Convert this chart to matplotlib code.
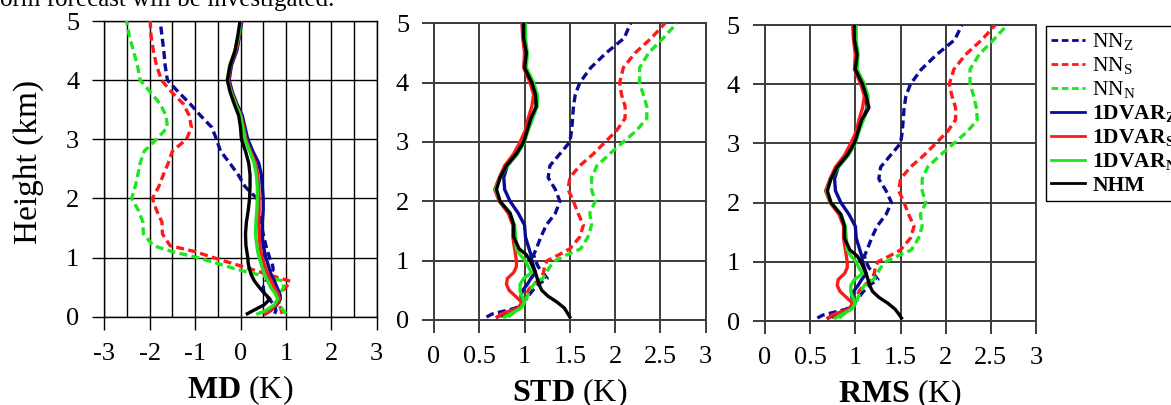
import matplotlib
matplotlib.use("Agg")
import matplotlib.pyplot as plt
from matplotlib.lines import Line2D

plt.rcParams['font.family'] = ['Liberation Serif', 'DejaVu Serif']
plt.rcParams['mathtext.fontset'] = 'custom'
plt.rcParams['mathtext.rm'] = 'Liberation Serif'
plt.rcParams['mathtext.bf'] = 'Liberation Serif:bold'
plt.rcParams['mathtext.it'] = 'Liberation Serif:italic'
plt.rcParams['axes.unicode_minus'] = False

# ---------------- data ----------------
height = [0.05, 0.1, 0.2, 0.3, 0.4, 0.5, 0.6, 0.7, 0.8, 0.9, 1.0, 1.1, 1.2, 1.4, 1.6,
          1.8, 2.0, 2.2, 2.4, 2.6, 2.8, 3.0, 3.2, 3.4, 3.6, 3.8, 4.0, 4.25, 4.5, 4.75, 5.0]

# MD (K)
md_nn_z = [0.75, 0.78, 0.75, 0.62, 0.52, 0.50, 0.56, 0.65, 0.72, 0.70, 0.64, 0.60, 0.56, 0.50, 0.44,
           0.40, 0.36, 0.10, -0.05, -0.24, -0.44, -0.53, -0.63, -0.88, -1.11, -1.37, -1.61, -1.66, -1.69, -1.73, -1.77]
md_nn_s = [0.92, 0.90, 0.86, 0.85, 0.88, 1.00, 1.10, 0.66, 0.25, -0.18, -0.60, -1.00, -1.55, -1.72, -1.73,
           -1.85, -1.94, -1.80, -1.70, -1.59, -1.50, -1.19, -1.08, -1.13, -1.26, -1.52, -1.74, -1.85, -1.92, -1.97, -1.99]
md_nn_n = [1.00, 0.95, 0.85, 0.85, 0.88, 0.95, 0.95, 0.45, -0.08, -0.50, -0.95, -1.50, -1.92, -2.14, -2.15,
           -2.25, -2.40, -2.32, -2.26, -2.21, -2.12, -1.85, -1.61, -1.64, -1.77, -1.99, -2.21, -2.27, -2.36, -2.45, -2.51]
md_var_z = [0.55, 0.66, 0.80, 0.88, 0.86, 0.80, 0.75, 0.68, 0.64, 0.60, 0.56, 0.53, 0.50, 0.47, 0.48,
            0.50, 0.50, 0.48, 0.46, 0.40, 0.27, 0.16, 0.10, 0.04, -0.08, -0.18, -0.25, -0.20, -0.08, -0.02, 0.03]
md_var_s = [0.55, 0.65, 0.78, 0.86, 0.82, 0.74, 0.68, 0.61, 0.56, 0.52, 0.48, 0.45, 0.43, 0.41, 0.40,
            0.41, 0.41, 0.40, 0.38, 0.33, 0.22, 0.12, 0.07, 0.01, -0.10, -0.20, -0.27, -0.22, -0.10, -0.03, 0.01]
md_var_n = [0.38, 0.55, 0.74, 0.82, 0.76, 0.66, 0.60, 0.54, 0.49, 0.45, 0.41, 0.38, 0.36, 0.33, 0.34,
            0.36, 0.37, 0.37, 0.35, 0.30, 0.20, 0.10, 0.05, 0.00, -0.11, -0.21, -0.29, -0.24, -0.12, -0.04, 0.00]
md_nhm = [0.15, 0.27, 0.52, 0.65, 0.52, 0.41, 0.31, 0.24, 0.20, 0.17, 0.16, 0.14, 0.12, 0.11, 0.13,
          0.17, 0.20, 0.21, 0.21, 0.18, 0.11, 0.02, 0.00, -0.04, -0.14, -0.23, -0.29, -0.23, -0.12, -0.06, -0.01]

# STD (K)
std_nn_z = [0.58, 0.64, 0.90, 0.98, 1.04, 1.09, 1.15, 1.25, 1.20, 1.15, 1.12, 1.10, 1.13, 1.18, 1.24,
            1.34, 1.39, 1.34, 1.26, 1.28, 1.39, 1.50, 1.52, 1.53, 1.54, 1.56, 1.61, 1.73, 1.90, 2.10, 2.17]
std_nn_s = [0.74, 0.78, 0.92, 0.99, 1.01, 1.04, 1.09, 1.19, 1.21, 1.22, 1.25, 1.38, 1.50, 1.61, 1.65,
            1.59, 1.54, 1.48, 1.50, 1.61, 1.76, 1.89, 2.02, 2.11, 2.11, 2.07, 2.05, 2.09, 2.22, 2.40, 2.55]
std_nn_n = [0.82, 0.86, 0.95, 1.01, 1.03, 1.06, 1.10, 1.20, 1.24, 1.28, 1.34, 1.47, 1.62, 1.70, 1.74,
            1.72, 1.78, 1.74, 1.74, 1.80, 1.94, 2.09, 2.24, 2.35, 2.35, 2.31, 2.27, 2.27, 2.37, 2.53, 2.68]
std_var_z = [0.70, 0.76, 0.92, 1.00, 0.96, 0.98, 1.03, 1.07, 1.12, 1.10, 1.08, 1.07, 1.05, 1.01, 1.00,
             0.93, 0.84, 0.78, 0.77, 0.81, 0.92, 0.99, 1.03, 1.08, 1.13, 1.12, 1.08, 1.00, 1.02, 0.99, 0.99]
std_var_s = [0.70, 0.74, 0.93, 0.97, 0.90, 0.83, 0.80, 0.81, 0.88, 0.91, 0.91, 0.90, 0.89, 0.87, 0.87,
             0.82, 0.72, 0.67, 0.72, 0.78, 0.88, 0.95, 1.01, 1.04, 1.08, 1.10, 1.06, 0.99, 1.00, 0.98, 0.97]
std_var_n = [0.78, 0.84, 0.96, 1.00, 0.97, 0.95, 0.95, 0.99, 1.08, 1.04, 1.01, 0.95, 0.91, 0.90, 0.89,
             0.84, 0.73, 0.68, 0.73, 0.81, 0.92, 1.00, 1.04, 1.09, 1.14, 1.14, 1.10, 1.02, 1.03, 1.01, 1.01]
std_nhm = [1.50, 1.48, 1.44, 1.36, 1.26, 1.19, 1.16, 1.14, 1.12, 1.09, 1.06, 1.02, 0.94, 0.88, 0.88,
           0.84, 0.73, 0.69, 0.73, 0.80, 0.91, 0.99, 1.03, 1.07, 1.13, 1.12, 1.08, 1.00, 1.02, 0.99, 0.99]

# RMS (K)
rms_nn_z = [0.58, 0.64, 0.90, 0.98, 1.04, 1.09, 1.15, 1.25, 1.20, 1.15, 1.12, 1.10, 1.13, 1.18, 1.24,
            1.34, 1.40, 1.34, 1.26, 1.28, 1.39, 1.50, 1.52, 1.53, 1.54, 1.56, 1.61, 1.73, 1.90, 2.10, 2.18]
rms_nn_s = [0.74, 0.78, 0.92, 0.99, 1.01, 1.04, 1.09, 1.19, 1.21, 1.22, 1.25, 1.38, 1.50, 1.61, 1.65,
            1.59, 1.54, 1.48, 1.50, 1.61, 1.76, 1.89, 2.02, 2.11, 2.11, 2.07, 2.04, 2.09, 2.22, 2.40, 2.55]
rms_nn_n = [0.82, 0.86, 0.95, 1.01, 1.03, 1.06, 1.10, 1.20, 1.24, 1.28, 1.34, 1.47, 1.62, 1.70, 1.74,
            1.72, 1.78, 1.74, 1.74, 1.80, 1.94, 2.09, 2.24, 2.35, 2.34, 2.31, 2.27, 2.27, 2.37, 2.53, 2.68]
rms_var_z = [0.70, 0.76, 0.92, 1.00, 0.96, 0.98, 1.03, 1.07, 1.12, 1.10, 1.08, 1.07, 1.05, 1.01, 1.00,
             0.93, 0.84, 0.78, 0.77, 0.81, 0.92, 0.99, 1.03, 1.08, 1.13, 1.12, 1.08, 1.00, 1.02, 0.99, 0.99]
rms_var_s = [0.70, 0.74, 0.93, 0.97, 0.90, 0.83, 0.80, 0.81, 0.88, 0.91, 0.91, 0.90, 0.89, 0.87, 0.87,
             0.82, 0.72, 0.67, 0.72, 0.78, 0.88, 0.95, 1.01, 1.04, 1.08, 1.10, 1.06, 0.99, 1.00, 0.98, 0.97]
rms_var_n = [0.78, 0.84, 0.96, 1.00, 0.97, 0.95, 0.95, 0.99, 1.08, 1.04, 1.01, 0.95, 0.91, 0.90, 0.89,
             0.84, 0.73, 0.68, 0.73, 0.81, 0.92, 1.00, 1.04, 1.09, 1.14, 1.14, 1.10, 1.02, 1.03, 1.01, 1.01]
rms_nhm = [1.51, 1.49, 1.44, 1.36, 1.26, 1.19, 1.16, 1.14, 1.12, 1.09, 1.06, 1.02, 0.94, 0.88, 0.88,
           0.84, 0.73, 0.69, 0.73, 0.80, 0.91, 0.99, 1.03, 1.07, 1.15, 1.12, 1.08, 1.00, 1.02, 0.99, 0.99]

series_names = ['NN_Z', 'NN_S', 'NN_N', '1DVAR_Z', '1DVAR_S', '1DVAR_N', 'NHM']
legend_labels = [r'NN$_\mathrm{Z}$', r'NN$_\mathrm{S}$', r'NN$_\mathrm{N}$',
                 r'1DVAR$_\mathbf{Z}$', r'1DVAR$_\mathbf{S}$', r'1DVAR$_\mathbf{N}$', 'NHM']
md_vals = [md_nn_z, md_nn_s, md_nn_n, md_var_z, md_var_s, md_var_n, md_nhm]
std_vals = [std_nn_z, std_nn_s, std_nn_n, std_var_z, std_var_s, std_var_n, std_nhm]
rms_vals = [rms_nn_z, rms_nn_s, rms_nn_n, rms_var_z, rms_var_s, rms_var_n, rms_nhm]

md_ticks = [-3, -2, -1, 0, 1, 2, 3]
std_ticks = [0, 0.5, 1, 1.5, 2, 2.5, 3]
std_ticklabels = ['0', '0.5', '1', '1.5', '2', '2.5', '3']
y_ticks = [0, 1, 2, 3, 4, 5]

# ---------------- style ----------------
colors = ['#0a0a96', '#ff1a1a', '#1ee61e', '#0a0a96', '#ff1a1a', '#1ee61e', '#000000']
styles = ['--', '--', '--', '-', '-', '-', '-']

W, H = 1171, 405
fig = plt.figure(figsize=(W / 100, H / 100), dpi=100)

def rect(l, r, t, b):
    return [l / W, (H - b) / H, (r - l) / W, (b - t) / H]

ax1 = fig.add_axes(rect(104.3, 376.7, 21, 316.7))
ax2 = fig.add_axes(rect(434, 705.7, 23.3, 320))
ax3 = fig.add_axes(rect(765, 1036, 25, 321))

tick_fs = 19

def draw(ax, vals, gridcol, gridlw):
    for v, c, s in zip(vals, colors, styles):
        if s == '--':
            ax.plot(v, height, color=c, lw=2.4, linestyle=(0, (2.4, 1.3)), zorder=3)
        else:
            ax.plot(v, height, color=c, lw=2.4, linestyle='-', zorder=4)
    ax.set_ylim(0, 5)
    ax.set_yticks(y_ticks)
    ax.set_yticklabels([str(t) for t in y_ticks])
    ax.grid(True, which='both', color=gridcol, lw=gridlw, zorder=1)
    ax.set_axisbelow(True)
    for sp in ax.spines.values():
        sp.set_color(gridcol)
        sp.set_linewidth(gridlw)
    ax.tick_params(axis='both', which='major', direction='out', length=9, width=gridlw,
                   color=gridcol, labelsize=tick_fs)
    ax.tick_params(axis='y', pad=9)
    ax.tick_params(axis='x', pad=10)
    ax.tick_params(which='minor', length=0)

draw(ax1, md_vals, 'black', 1.0)
ax1.set_xlim(-3, 3)
ax1.set_xticks(md_ticks)
ax1.set_xticklabels([str(t) for t in md_ticks])
ax1.set_xticks([-2.5, -1.5, -0.5, 0.5, 1.5, 2.5], minor=True)
ax1.set_ylabel('Height (km)', fontsize=24)
ax1.yaxis.set_label_coords((44 - 104.3) / 272.4, (316.7 - 162) / 295.7)

for ax, vals in ((ax2, std_vals), (ax3, rms_vals)):
    draw(ax, vals, '#3c3c3c', 1.4)
    ax.set_xlim(0, 3)
    ax.set_xticks(std_ticks)
    ax.set_xticklabels(std_ticklabels)

ax1.set_xlabel(r'$\mathbf{MD}$ (K)', fontsize=23, labelpad=6)
ax2.set_xlabel(r'$\mathbf{STD}$ (K)', fontsize=23, labelpad=6)
ax3.set_xlabel(r'$\mathbf{RMS}$ (K)', fontsize=23, labelpad=6)

handles = [Line2D([], [], color=c, lw=2.0, linestyle=((0, (2.4, 1.3)) if s == '--' else '-'))
           for c, s in zip(colors, styles)]
leg = fig.legend(handles, legend_labels, loc='upper left',
                 bbox_to_anchor=(1046 / W, 1 - 26 / H), bbox_transform=fig.transFigure,
                 fontsize=15.5, frameon=True, fancybox=False, edgecolor='black',
                 framealpha=1, handlelength=1.55, handletextpad=0.35, labelspacing=0.14,
                 borderpad=0.25, borderaxespad=0)
leg.get_frame().set_linewidth(1.0)
for t in leg.get_texts()[3:]:
    t.set_fontweight('bold')

fig.text(0.0, 1 - 6 / H, 'orm forecast will be investigated.', fontsize=18,
         va='baseline', ha='left')

fig.savefig('out.png', dpi=100)
